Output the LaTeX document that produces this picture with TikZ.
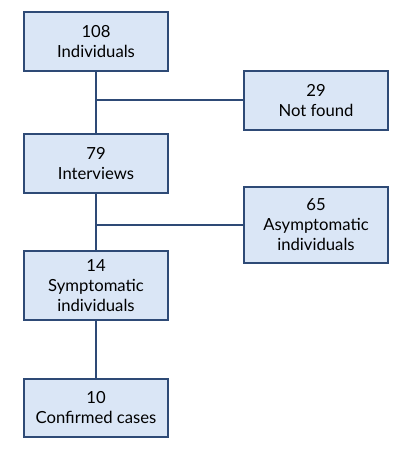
\documentclass[tikz,border=0pt]{standalone}
\usepackage{fontspec}
\setmainfont{Lato}
\usepackage{xcolor}
\usepackage{tikz}
\usetikzlibrary{calc,positioning}
\definecolor{edgex}{HTML}{2E4A76}
\definecolor{fillx}{HTML}{DAE6F6}
\tikzset{
  bx/.style={draw=edgex,line width=1.5pt,fill=fillx,align=center,inner sep=2pt,
    minimum width=108pt,font=\fontsize{12.5}{15}\selectfont},
  ln/.style={draw=edgex,line width=1.5pt}
}
\begin{document}
\begin{tikzpicture}[x=0.75pt,y=-0.75pt]
\useasboundingbox (0,0) rectangle (405,459);
\node[bx,minimum height=44.25pt] (indiv) at (96,41.5) {108\\Individuals};
\node[bx,minimum height=44.25pt] (notfd) at (316,100.5) {29\\Not found};
\node[bx,minimum height=44.25pt] (intv) at (96,163.5) {79\\Interviews};
\node[bx,minimum height=57pt] (asym) at (316,225) {65\\Asymptomatic\\individuals};
\node[bx,minimum height=51.75pt] (symp) at (96,285.5) {14\\Symptomatic\\individuals};
\node[bx,minimum height=43.5pt] (conf) at (96,408) {10\\Confirmed cases};
\draw[ln] (indiv) -- (intv);
\draw[ln] (notfd.west) -- (notfd.west -| indiv.south);
\draw[ln] (intv) -- (symp);
\draw[ln] (asym.west) -- (asym.west -| intv.south);
\draw[ln] (symp) -- (conf);
\end{tikzpicture}
\end{document}
